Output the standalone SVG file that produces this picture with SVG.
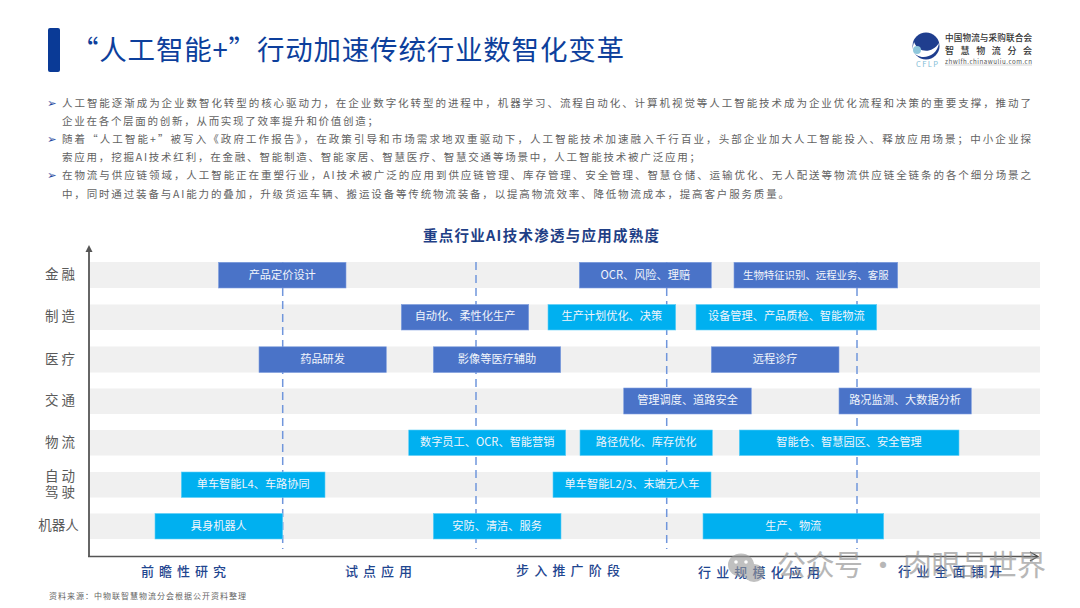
<svg xmlns="http://www.w3.org/2000/svg" width="1080" height="608" viewBox="0 0 1080 608">
<style>
text{font-family:"Noto Sans CJK SC","Noto Sans",sans-serif}
.row{fill:#f0f0f0}
.blue{fill:#4a73c8;stroke:#7f9fe0;stroke-width:.6}
.cyan{fill:#00b0f0;stroke:#5fd0f8;stroke-width:.6}
.bl{fill:#f2f5fb;font-size:11.2px;text-anchor:middle}
.body{fill:#626262;font-size:10.5px}
.tick{fill:#1f4aa0;font-size:11.5px;font-family:"DejaVu Sans",sans-serif}
.cat{fill:#5a5a5a;font-size:13.5px;text-anchor:middle}
.stage{fill:#1f4690;font-size:13px;font-weight:500}
.dash{stroke:#7096dc;stroke-width:1.5;stroke-dasharray:8 5;fill:none}
</style>
<rect width="1080" height="608" fill="#fff"/>
<g id="header">
<rect x="48" y="28" width="12" height="44" rx="2" fill="#0a3a96"/>
<text x="71" y="60" font-size="27.500" fill="#0d3f9c" textLength="553">“人工智能+”行动加速传统行业数智化变革</text>
</g>
<g id="logo">
<circle cx="926" cy="46" r="13.500" fill="#1f3e8e"/>
<path d="M914 42C918 53 932 54 939 43C937 58 918 62 912 50Z" fill="#fff"/>
<circle cx="917" cy="50" r="4" fill="#8fc7dc"/>
<text x="916" y="67" font-size="7.500" fill="#7fbcd6" font-family="Liberation Sans" textLength="22">CFLP</text>
<text x="945" y="41" font-size="8.600" font-weight="500" fill="#333" textLength="87">中国物流与采购联合会</text>
<text x="945" y="54" font-size="9" font-weight="500" fill="#333" textLength="87">智慧物流分会</text>
<text x="945" y="64" font-size="6.200" fill="#555" textLength="87">zhwlfh.chinawuliu.com.cn</text>
<line x1="945" y1="65" x2="1032" y2="65" stroke="#aaa" stroke-width=".5"/>
</g>
<g id="intro">
<text class="tick" x="47" y="107">➢</text>
<text class="body" x="62" y="107" textLength="969">人工智能逐渐成为企业数智化转型的核心驱动力，在企业数字化转型的进程中，机器学习、流程自动化、计算机视觉等人工智能技术成为企业优化流程和决策的重要支撑，推动了</text>
<text class="body" x="62" y="125" textLength="316">企业在各个层面的创新，从而实现了效率提升和价值创造；</text>
<text class="tick" x="47" y="143">➢</text>
<text class="body" x="62" y="143" textLength="969">随着“人工智能+”被写入《政府工作报告》，在政策引导和市场需求地双重驱动下，人工智能技术加速融入千行百业，头部企业加大人工智能投入、释放应用场景；中小企业探</text>
<text class="body" x="62" y="161" textLength="638">索应用，挖掘AI技术红利，在金融、智能制造、智能家居、智慧医疗、智慧交通等场景中，人工智能技术被广泛应用；</text>
<text class="tick" x="47" y="179">➢</text>
<text class="body" x="62" y="179" textLength="969">在物流与供应链领域，人工智能正在重塑行业，AI技术被广泛的应用到供应链管理、库存管理、安全管理、智慧仓储、运输优化、无人配送等物流供应链全链条的各个细分场景之</text>
<text class="body" x="62" y="198" textLength="727">中，同时通过装备与AI能力的叠加，升级货运车辆、搬运设备等传统物流装备，以提高物流效率、降低物流成本，提高客户服务质量。</text>
</g>
<text id="chart-title" x="541" y="241" font-size="14.500" font-weight="700" fill="#1f3f86" text-anchor="middle" textLength="236">重点行业AI技术渗透与应用成熟度</text>
<g id="rows">
<rect class="row" x="90" y="262" width="950" height="26"/>
<rect class="row" x="90" y="304.500" width="950" height="25.500"/>
<rect class="row" x="90" y="346.500" width="950" height="26"/>
<rect class="row" x="90" y="388.500" width="950" height="25.500"/>
<rect class="row" x="90" y="430" width="950" height="25.500"/>
<rect class="row" x="90" y="472" width="950" height="25.500"/>
<rect class="row" x="90" y="513.500" width="950" height="25.500"/>
</g>
<g id="connectors">
<line class="dash" x1="282.700" y1="262" x2="282.700" y2="549"/>
<line class="dash" x1="476" y1="262" x2="476" y2="549"/>
<line class="dash" x1="666.700" y1="262" x2="666.700" y2="549"/>
<line class="dash" x1="857" y1="262" x2="857" y2="549"/>
<path d="M89 556.500V250" stroke="#666" stroke-width="2" fill="none"/>
<path d="M85.500 252L89 245L92.500 252Z" fill="#555"/>
<path d="M88 556.500H1037" stroke="#555" stroke-width="1.600" fill="none"/>
<path d="M1030 552L1038 556.500L1030 561" stroke="#444" stroke-width="1.200" fill="none"/>
</g>
<g id="labels">
<text class="cat" x="60" y="279">金 融</text>
<text class="cat" x="60" y="321">制 造</text>
<text class="cat" x="60" y="364">医 疗</text>
<text class="cat" x="60" y="405">交 通</text>
<text class="cat" x="60" y="447">物 流</text>
<text class="cat" x="60" y="480.500">自 动</text>
<text class="cat" x="60" y="497">驾 驶</text>
<text class="cat" x="58.500" y="530">机器人</text>
</g>
<g id="bar-finance-1"><rect class="blue" x="218.500" y="262.300" width="127.500" height="25.700"/><text class="bl" x="282.200" y="279">产品定价设计</text></g>
<g id="bar-finance-2"><rect class="blue" x="579.300" y="262.300" width="132" height="25.700"/><text class="bl" x="645.300" y="279">OCR、风险、理赔</text></g>
<g id="bar-finance-3"><rect class="blue" x="734" y="262.300" width="163.700" height="25.700"/><text class="bl" x="815.800" y="279" style="font-size:10.400px">生物特征识别、远程业务、客服</text></g>
<g id="bar-mfg-1"><rect class="blue" x="401.300" y="304.500" width="127.400" height="25.500"/><text class="bl" x="465" y="320">自动化、柔性化生产</text></g>
<g id="bar-mfg-2"><rect class="cyan" x="548" y="304.500" width="127.700" height="25.500"/><text class="bl" x="611.800" y="320">生产计划优化、决策</text></g>
<g id="bar-mfg-3"><rect class="cyan" x="696" y="304.500" width="180.700" height="25.500"/><text class="bl" x="786.300" y="320">设备管理、产品质检、智能物流</text></g>
<g id="bar-med-1"><rect class="blue" x="259" y="346.800" width="127.300" height="25.700"/><text class="bl" x="322.600" y="363">药品研发</text></g>
<g id="bar-med-2"><rect class="blue" x="433.300" y="346.800" width="127.400" height="25.700"/><text class="bl" x="497" y="363">影像等医疗辅助</text></g>
<g id="bar-med-3"><rect class="blue" x="711.300" y="346.800" width="127.700" height="25.700"/><text class="bl" x="775.100" y="363">远程诊疗</text></g>
<g id="bar-traffic-1"><rect class="blue" x="623.700" y="388" width="127.600" height="26"/><text class="bl" x="687.500" y="404">管理调度、道路安全</text></g>
<g id="bar-traffic-2"><rect class="blue" x="839" y="388" width="132.300" height="26"/><text class="bl" x="905.100" y="404">路况监测、大数据分析</text></g>
<g id="bar-log-1"><rect class="cyan" x="408.700" y="430" width="157" height="25.500"/><text class="bl" x="487.200" y="446">数字员工、OCR、智能营销</text></g>
<g id="bar-log-2"><rect class="cyan" x="580" y="430" width="132.400" height="25.500"/><text class="bl" x="646.200" y="446">路径优化、库存优化</text></g>
<g id="bar-log-3"><rect class="cyan" x="739.300" y="430" width="219.700" height="25.500"/><text class="bl" x="849.100" y="446">智能仓、智慧园区、安全管理</text></g>
<g id="bar-auto-1"><rect class="cyan" x="181.300" y="472" width="143.700" height="25.500"/><text class="bl" x="253.200" y="488">单车智能L4、车路协同</text></g>
<g id="bar-auto-2"><rect class="cyan" x="553" y="472" width="158" height="25.500"/><text class="bl" x="632" y="488">单车智能L2/3、末端无人车</text></g>
<g id="bar-robot-1"><rect class="cyan" x="155" y="513.500" width="127.700" height="25.500"/><text class="bl" x="218.800" y="530">具身机器人</text></g>
<g id="bar-robot-2"><rect class="cyan" x="433.300" y="513.500" width="127.700" height="25.500"/><text class="bl" x="497.100" y="530">安防、清洁、服务</text></g>
<g id="bar-robot-3"><rect class="cyan" x="703" y="513.500" width="180.700" height="25.500"/><text class="bl" x="793.300" y="530">生产、物流</text></g>
<g id="stages">
<text class="stage" x="141" y="576" textLength="85">前瞻性研究</text>
<text class="stage" x="345" y="576" textLength="67">试点应用</text>
<text class="stage" x="516" y="575" textLength="104">步入推广阶段</text>
<text class="stage" x="698" y="577" textLength="122">行业规模化应用</text>
<text class="stage" x="898" y="576" textLength="104">行业全面铺开</text>
</g>
<text id="source" x="49" y="599" font-size="8" fill="#666" textLength="197">资料来源：中物联智慧物流分会根据公开资料整理</text>
<g id="watermark" opacity=".62">
<ellipse cx="741" cy="565" rx="13" ry="11.500" fill="#9a9a9a"/>
<ellipse cx="754" cy="573" rx="10.500" ry="9" fill="#9a9a9a"/>
<circle cx="736" cy="562" r="1.800" fill="#fff"/><circle cx="746" cy="562" r="1.800" fill="#fff"/>
<text x="777" y="576" font-size="29" fill="#8c8c8c" textLength="269">公众号 · 肉眼品世界</text>
</g>
</svg>
